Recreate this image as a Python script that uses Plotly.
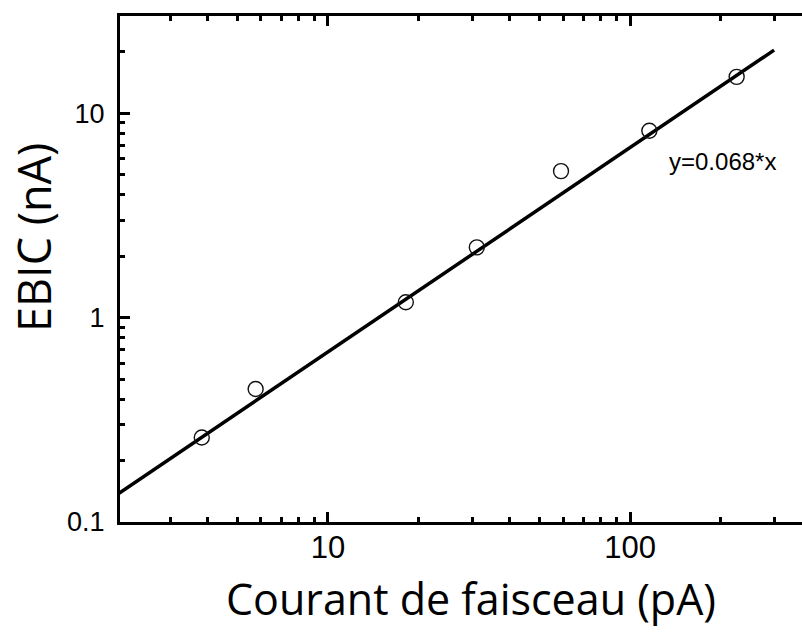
import numpy as np
import plotly.graph_objects as go

# Measured EBIC current versus beam current
beam_current_pA = [3.82, 5.76, 18.1, 31.1, 59.1, 115.9, 225.5]
ebic_nA = [0.259, 0.448, 1.19, 2.21, 5.22, 8.23, 15.1]

# Linear fit y = slope * x
fit_slope = 0.068
fit_x = [2.0, 300.0]
fit_label = "y=0.068*x"

x_major = [10, 100]
y_major = [0.1, 1, 10]
x_minor = [3, 4, 5, 6, 7, 8, 9, 20, 30, 40, 50, 60, 70, 80, 90, 200, 300]
y_minor = [0.2, 0.3, 0.4, 0.5, 0.6, 0.7, 0.8, 0.9, 2, 3, 4, 5, 6, 7, 8, 9, 20]

W, H = 802, 641
L, R, T, B = 120, 0, 16, 119

fig = go.Figure()

fig.add_trace(go.Scatter(
    x=fit_x, y=[fit_slope * v for v in fit_x],
    mode="lines", line=dict(color="black", width=3.5),
    showlegend=False, hoverinfo="skip",
))

fig.add_trace(go.Scatter(
    x=beam_current_pA, y=ebic_nA,
    mode="markers",
    marker=dict(symbol="circle-open", size=15, color="#111111",
                line=dict(width=1.4, color="#111111")),
    showlegend=False,
))

axis_common = dict(
    type="log",
    showgrid=False,
    zeroline=False,
    showline=True,
    linecolor="black",
    linewidth=3,
    ticks="inside",
    ticklen=10,
    tickwidth=2.5,
    tickcolor="black",
)

fig.update_xaxes(
    **axis_common,
    range=[0.3113, 2.5695],
    tickmode="array",
    tickvals=x_major,
    ticktext=[str(v) for v in x_major],
    mirror="ticks",
    tickfont=dict(family="Liberation Sans, Arial", size=31, color="black"),
    ticklabelstandoff=-4,
    minor=dict(tickmode="array", tickvals=x_minor, ticks="inside",
               ticklen=5, tickwidth=2.5, tickcolor="black", showgrid=False),
)

fig.update_yaxes(
    **axis_common,
    range=[-1, 1.4768],
    tickmode="array",
    tickvals=y_major,
    ticktext=["0.1", "1", "10"],
    mirror=False,
    tickfont=dict(family="Liberation Sans, Arial", size=27, color="black"),
    ticklabelstandoff=7,
    minor=dict(tickmode="array", tickvals=y_minor, ticks="inside",
               ticklen=5, tickwidth=2.5, tickcolor="black", showgrid=False),
)

pw = W - L - R
ph = H - T - B

fig.add_annotation(
    x=(667 - L) / pw, y=(522 - 161) / ph, xref="paper", yref="paper",
    text=fit_label, showarrow=False, xanchor="left", yanchor="middle",
    font=dict(family="Liberation Sans, Arial", size=24, color="black"),
)

fig.add_annotation(
    x=(471 - L) / pw, y=(522 - 598) / ph, xref="paper", yref="paper",
    text="Courant de faisceau (pA)", showarrow=False,
    xanchor="center", yanchor="middle",
    font=dict(family="Open Sans", size=43, color="black"),
)

fig.add_annotation(
    x=(33 - L) / pw, y=(522 - 238) / ph, xref="paper", yref="paper",
    text="EBIC (nA)", showarrow=False, textangle=-90,
    xanchor="center", yanchor="middle",
    font=dict(family="Open Sans", size=45, color="black"),
)

fig.update_layout(
    width=W, height=H, autosize=False,
    margin=dict(l=L, r=R, t=T, b=B, pad=0),
    paper_bgcolor="white", plot_bgcolor="white",
)

fig.write_html("out.html")
